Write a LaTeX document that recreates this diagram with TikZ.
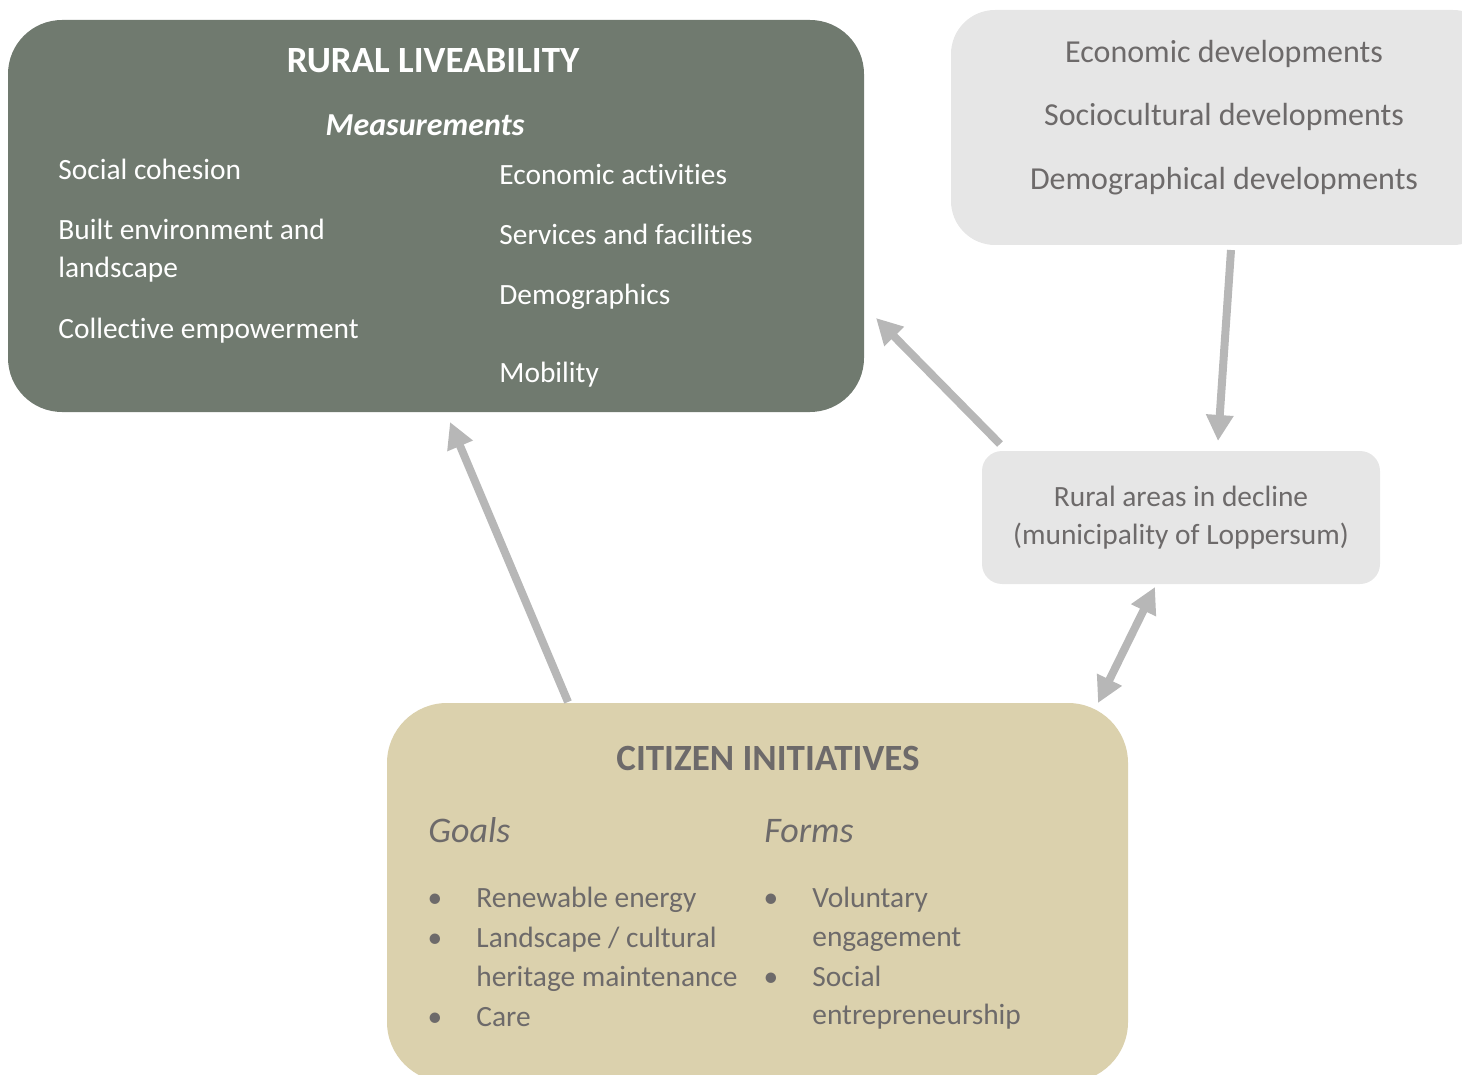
\documentclass[tikz,border=0pt]{standalone}
\usepackage{fontspec}
\setmainfont[Ligatures=NoCommon]{Carlito}
\usepackage{xcolor}
\usepackage{tikz}
\usetikzlibrary{arrows.meta, positioning, calc}

\definecolor{ruralgreen}{HTML}{707A6F}
\definecolor{boxgrey}{HTML}{E6E6E6}
\definecolor{citizenbeige}{HTML}{DBD1AD}
\definecolor{textgrey}{HTML}{6D6A6A}
\definecolor{arrowgrey}{HTML}{B7B7B7}

\begin{document}
\begin{tikzpicture}[
        x=0.5pt, y=-0.5pt,
        bigbox/.style={rectangle, inner sep=0pt, outer sep=0pt},
        item/.style={anchor=base west, inner sep=0pt, font=\fontsize{14.7pt}{17pt}\selectfont},
        centred/.style={anchor=base, inner sep=0pt},
        title/.style={centred, font=\fontsize{18.5pt}{22pt}\selectfont\bfseries},
        dot/.style={anchor=base, inner sep=0pt, text=textgrey, font=\fontsize{14.7pt}{17pt}\selectfont},
        flow/.style={draw=arrowgrey, line width=4pt, -{Triangle[length=13pt, width=13pt]}},
        twoway/.style={draw=arrowgrey, line width=4pt, {Triangle[length=13pt, width=13pt]}-{Triangle[length=13pt, width=13pt]}}
    ]
        \clip (0,0) rectangle (1462,1075);

        % Boxes
        \node[bigbox, fill=ruralgreen, rounded corners=27pt, minimum width=428pt, minimum height=196pt] (rural) at (436,216) {};
        \node[bigbox, fill=boxgrey, rounded corners=22pt, minimum width=273pt, minimum height=117.5pt] (devel) at (1224,127.5) {};
        \node[bigbox, fill=boxgrey, rounded corners=10pt, minimum width=199pt, minimum height=66.5pt] (decline) at (1181,517.5) {};
        \node[bigbox, fill=citizenbeige, rounded corners=30pt, minimum width=370.5pt, minimum height=189.5pt] (citizen) at (757.5,892.5) {};

        % Rural liveability
        \node[title, text=white] (ruralTitle) at (433,73) {RURAL LIVEABILITY};
        \node[centred, text=white, font=\fontsize{16pt}{19pt}\selectfont\bfseries\itshape] (ruralMeas) at (425,136) {Measurements};
        \node[item, text=white] (socCoh) at (58,180) {Social cohesion};
        \node[item, text=white] (builtEnv) at (58,240) {Built environment and};
        \node[item, text=white] (builtEnvB) at (58,278) {landscape};
        \node[item, text=white] (collEmp) at (58,338) {Collective empowerment};
        \node[item, text=white] (econAct) at (499,185) {Economic activities};
        \node[item, text=white] (servFac) at (499,245) {Services and facilities};
        \node[item, text=white] (demogr) at (499,305) {Demographics};
        \node[item, text=white] (mobil) at (499,382) {Mobility};

        % Developments
        \node[centred, text=textgrey, font=\fontsize{16pt}{19pt}\selectfont] (econDev) at (1224,63) {Economic developments};
        \node[centred, text=textgrey, font=\fontsize{16pt}{19pt}\selectfont] (socDev) at (1224,126) {Sociocultural developments};
        \node[centred, text=textgrey, font=\fontsize{16pt}{19pt}\selectfont] (demDev) at (1224,190) {Demographical developments};

        % Rural areas in decline
        \node[centred, text=textgrey, font=\fontsize{14.7pt}{17pt}\selectfont] (declineA) at (1181,506) {Rural areas in decline};
        \node[centred, text=textgrey, font=\fontsize{14.7pt}{17pt}\selectfont] (declineB) at (1181,544) {(municipality of Loppersum)};

        % Citizen initiatives
        \node[title, text=textgrey] (citTitle) at (768,770) {CITIZEN INITIATIVES};
        \node[anchor=base west, inner sep=0pt, text=textgrey, font=\fontsize{18pt}{21pt}\selectfont\itshape] (goals) at (428,842) {Goals};
        \node[anchor=base west, inner sep=0pt, text=textgrey, font=\fontsize{18pt}{21pt}\selectfont\itshape] (forms) at (764,842) {Forms};
        \node[dot] (dotA) at (435,907) {•};
        \node[dot] (dotB) at (435,947) {•};
        \node[dot] (dotC) at (435,1026) {•};
        \node[dot] (dotD) at (771,907) {•};
        \node[dot] (dotE) at (771,986) {•};
        \node[item, text=textgrey] (renew) at (476,907) {Renewable energy};
        \node[item, text=textgrey] (landsc) at (476,947) {Landscape / cultural};
        \node[item, text=textgrey] (herit) at (476,986) {heritage maintenance};
        \node[item, text=textgrey] (care) at (476,1026) {Care};
        \node[item, text=textgrey] (volun) at (812,907) {Voluntary};
        \node[item, text=textgrey] (engag) at (812,946) {engagement};
        \node[item, text=textgrey] (social) at (812,986) {Social};
        \node[item, text=textgrey] (entre) at (812,1024) {entrepreneurship};

        % Arrows
        \draw[flow] ([shift={(18,-7)}]decline.north west) -- ([shift={(12,298)}]rural.north east);
        \draw[flow] ([shift={(280,5)}]devel.south west) -- ([shift={(236,-10)}]decline.north west);
        \draw[flow] ([shift={(181,-1)}]citizen.north west) -- ([shift={(442,10)}]rural.south west);
        \draw[twoway] ([shift={(-30,0)}]citizen.north east) -- ([shift={(173,3)}]decline.south west);

    \end{tikzpicture}
\end{document}
